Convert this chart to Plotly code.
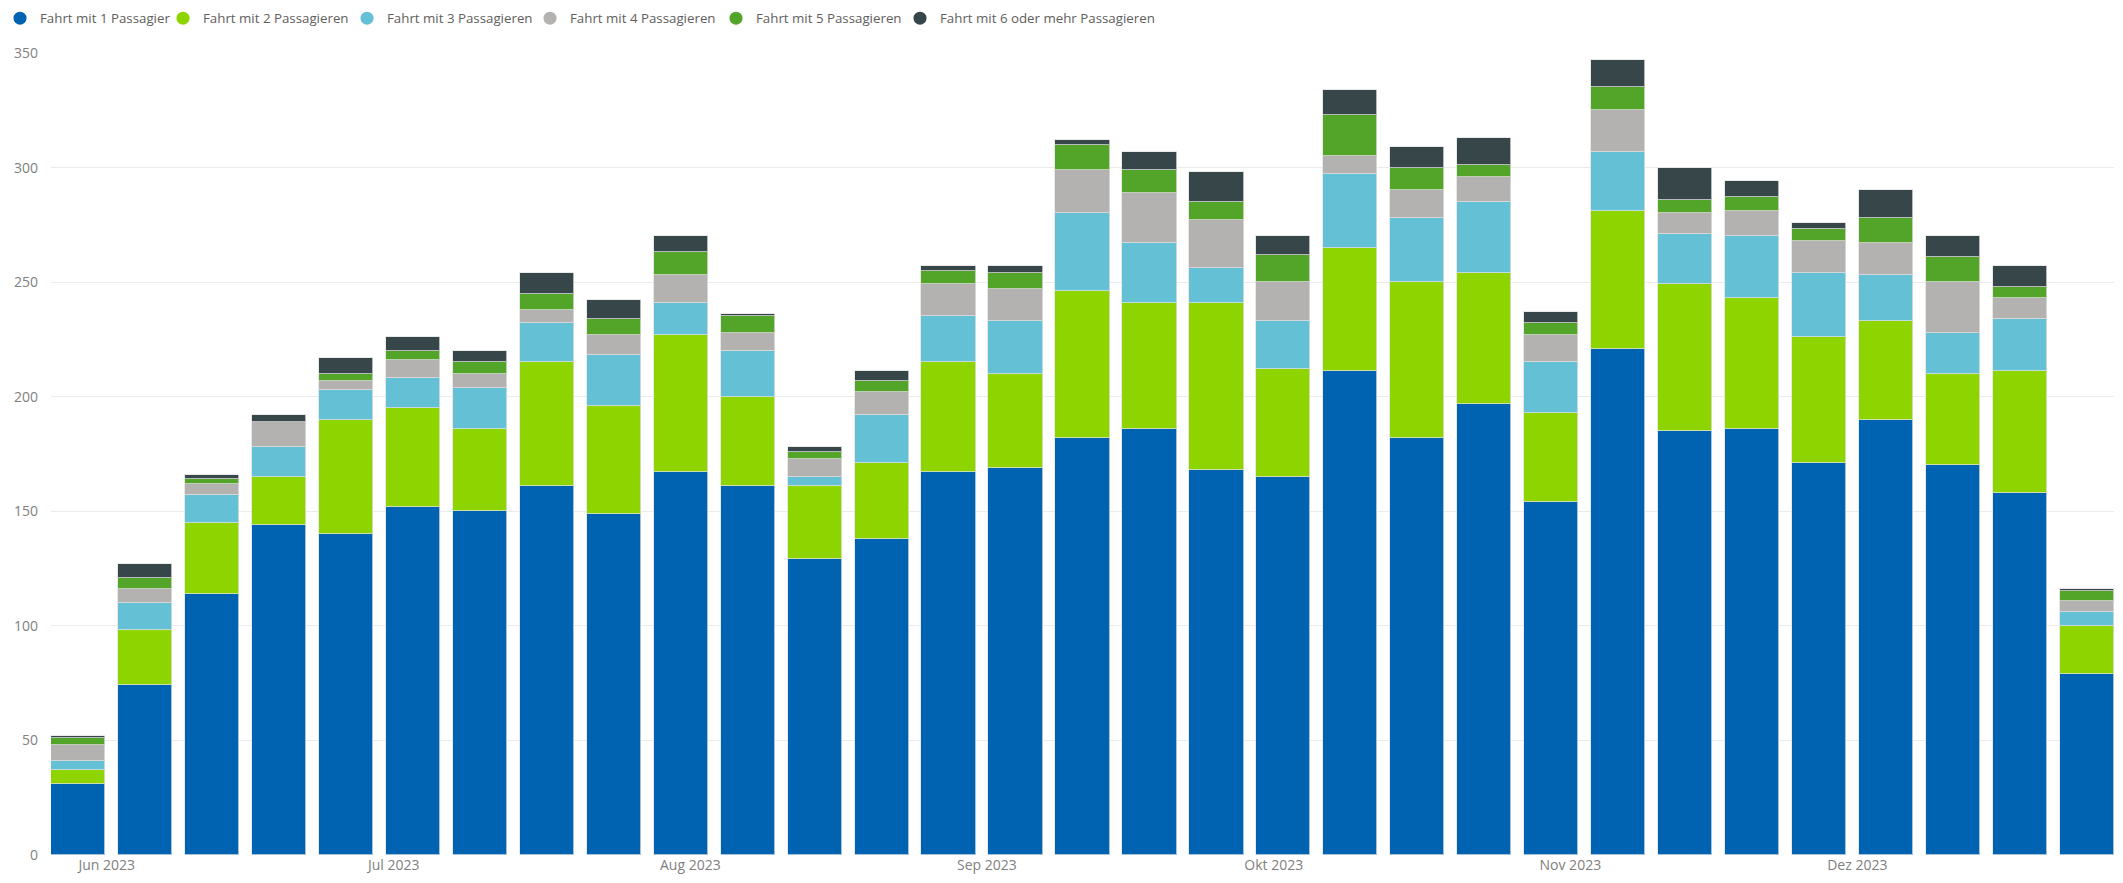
import plotly.graph_objects as go
import pandas as pd

# Week (Monday) of each bar
weeks = ["2023-05-29", "2023-06-05", "2023-06-12", "2023-06-19", "2023-06-26",
         "2023-07-03", "2023-07-10", "2023-07-17", "2023-07-24", "2023-07-31",
         "2023-08-07", "2023-08-14", "2023-08-21", "2023-08-28",
         "2023-09-04", "2023-09-11", "2023-09-18", "2023-09-25",
         "2023-10-02", "2023-10-09", "2023-10-16", "2023-10-23", "2023-10-30",
         "2023-11-06", "2023-11-13", "2023-11-20", "2023-11-27",
         "2023-12-04", "2023-12-11", "2023-12-18", "2023-12-25"]

names = ["Fahrt mit 1 Passagier", "Fahrt mit 2 Passagieren", "Fahrt mit 3 Passagieren",
         "Fahrt mit 4 Passagieren", "Fahrt mit 5 Passagieren", "Fahrt mit 6 oder mehr Passagieren"]

p1 = [31, 74, 114, 144, 140, 152, 150, 161, 149, 167, 161, 129, 138, 167, 169, 182,
      186, 168, 165, 211, 182, 197, 154, 221, 185, 186, 171, 190, 170, 158, 79]
p2 = [6, 24, 31, 21, 50, 43, 36, 54, 47, 60, 39, 32, 33, 48, 41, 64,
      55, 73, 47, 54, 68, 57, 39, 60, 64, 57, 55, 43, 40, 53, 21]
p3 = [4, 12, 12, 13, 13, 13, 18, 17, 22, 14, 20, 4, 21, 20, 23, 34,
      26, 15, 21, 32, 28, 31, 22, 26, 22, 27, 28, 20, 18, 23, 6]
p4 = [7, 6, 5, 11, 4, 8, 6, 6, 9, 12, 8, 8, 10, 14, 14, 19,
      22, 21, 17, 8, 12, 11, 12, 18, 9, 11, 14, 14, 22, 9, 5]
p5 = [3, 5, 2, 0, 3, 4, 5, 7, 7, 10, 7, 3, 5, 6, 7, 11,
      10, 8, 12, 18, 10, 5, 5, 10, 6, 6, 5, 11, 11, 5, 4]
p6 = [1, 6, 2, 3, 7, 6, 5, 9, 8, 7, 1, 2, 4, 2, 3, 2,
      8, 13, 8, 11, 9, 12, 5, 12, 14, 7, 3, 12, 9, 9, 1]

month_ticks = ["2023-06-01", "2023-07-01", "2023-08-01", "2023-09-01",
               "2023-10-01", "2023-11-01", "2023-12-01"]
month_labels = ["Jun 2023", "Jul 2023", "Aug 2023", "Sep 2023", "Okt 2023", "Nov 2023", "Dez 2023"]
y_ticks = [0, 50, 100, 150, 200, 250, 300, 350]

colors = ["#0063B1", "#8DD400", "#64C0D4", "#B3B2B0", "#53A52A", "#374649"]
legend_widths = [118, 139, 138, 141, 139, 220]

series = [p1, p2, p3, p4, p5, p6]
x = pd.to_datetime(weeks)
bar_frac = 0.81
week_ms = 7 * 24 * 3600 * 1000

fig = go.Figure()
for name, vals, col in zip(names, series, colors):
    fig.add_trace(go.Bar(
        x=x, y=vals, name=name, showlegend=False, legendgroup=name,
        width=bar_frac * week_ms,
        marker=dict(color=col, line=dict(width=1, color="rgba(225,225,225,0.75)")),
    ))
for name, col, lw in zip(names, colors, legend_widths):
    fig.add_trace(go.Scatter(
        x=[None], y=[None], mode="markers", name=name, legendgroup=name,
        marker=dict(symbol="circle", size=13, color=col), legendwidth=lw,
    ))

half = pd.Timedelta(days=7 * bar_frac / 2)
xr = [x[0] - half, x[-1] + half]

fig.update_layout(
    width=2123, height=883,
    barmode="stack",
    paper_bgcolor="white", plot_bgcolor="white",
    margin=dict(l=51, r=9, t=50, b=28),
    font=dict(family="Open Sans, sans-serif", size=14, color="#808080"),
    legend=dict(orientation="h", xref="container", yref="container",
                x=0.0, y=1.0 - 3 / 883, xanchor="left", yanchor="top",
                font=dict(size=13.3, color="#605E5C"),
                itemwidth=30, tracegroupgap=0, bgcolor="rgba(0,0,0,0)"),
    xaxis=dict(type="date", range=xr, tickvals=month_ticks, ticktext=month_labels,
               showgrid=False, zeroline=False, showline=False, ticks="",
               tickfont=dict(size=14, color="#808080")),
    yaxis=dict(range=[0, 350], tickvals=y_ticks, showgrid=True, gridcolor="#EBEBEB",
               gridwidth=1, zeroline=False, showline=False, ticks="",
               ticklabelstandoff=12, tickfont=dict(size=14, color="#808080")),
    bargap=0,
)

fig.write_html("out.html", config={"displayModeBar": False},
               post_script="document.body.style.margin='0';document.body.style.overflow='hidden';")
